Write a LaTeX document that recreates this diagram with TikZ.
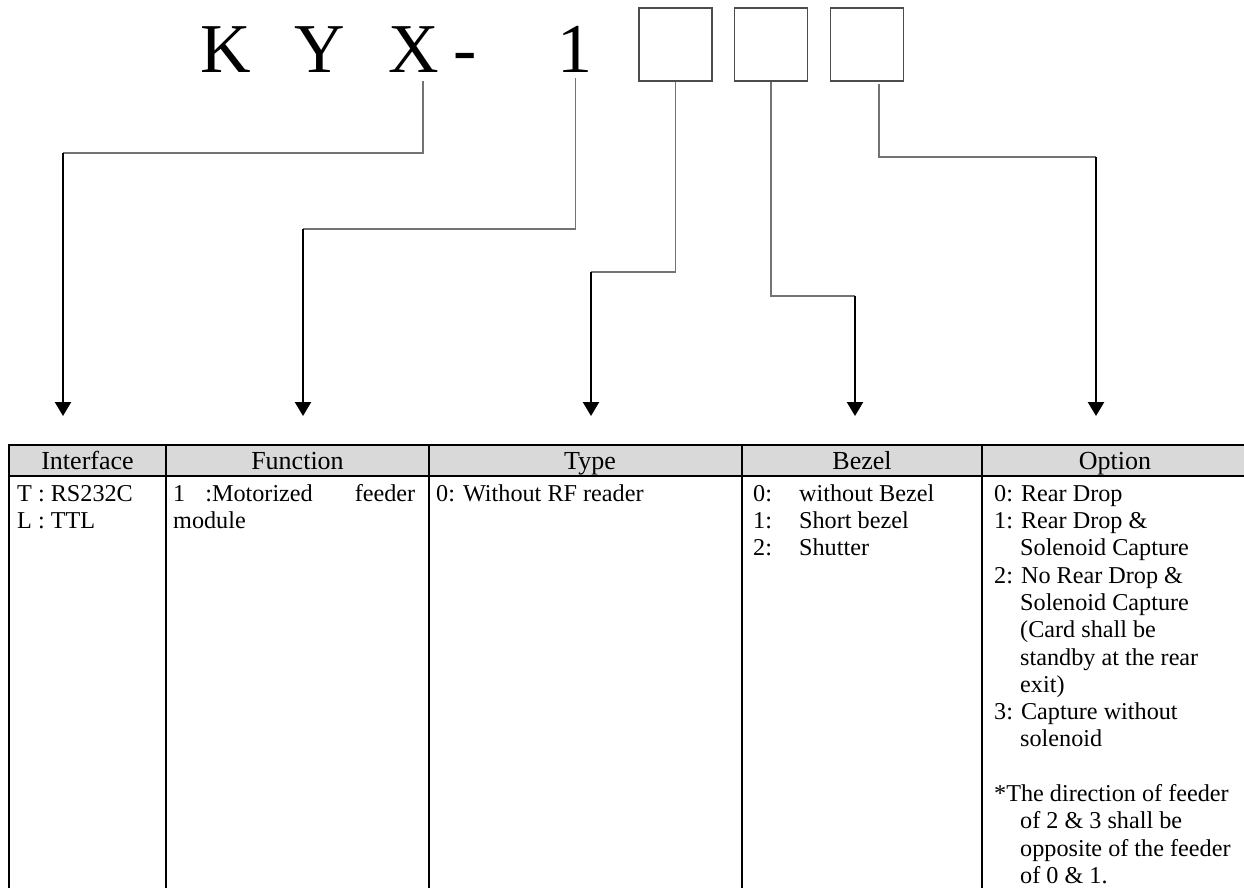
\documentclass[tikz,border=0pt]{standalone}
\usepackage{fontspec}
\setmainfont{Liberation Serif}
\usetikzlibrary{calc}
\usetikzlibrary{arrows.meta}

\newcommand{\optind}{\hspace*{26pt}}
\newcommand{\bztab}[1]{\makebox[46pt][l]{#1}}

\begin{document}
\begin{tikzpicture} [x=1pt,y=-1pt,
  codechar/.style={anchor=base west, inner sep=0pt, font=\fontsize{70}{70}\selectfont},
  codebox/.style={draw=black!70, line width=1.2pt, minimum width=73pt, minimum height=73pt, inner sep=0pt},
  lead/.style={draw=black!55, line width=1.3pt},
  arr/.style={line width=2.4pt, -{Triangle[width=16pt,length=14pt]}},
  hdr/.style={anchor=base, inner sep=0pt, font=\fontsize{26}{28}\selectfont},
  cell/.style={anchor=north west, inner sep=0pt, align=left, font=\fontsize{24.2}{27.3}\selectfont}]

\useasboundingbox (0,0) rectangle (1244,888);
\clip (0,0) rectangle (1244,888);

\node[codechar] (cK) at (200,73) {K};
\node[codechar] (cY) at (294.5,73) {Y};
\node[codechar] (cX) at (388.5,73) {X};
\node[codechar] (cDash) at (453,73) {-};
\node[codechar] (cOne) at (557,73) {1};

\foreach \b/\x in {bA/675.5, bB/771, bC/867}
\node[codebox] (\b) at (\x,44.5) {};

\coordinate (eI) at (63,153);   \coordinate (tI) at (63,416);
\coordinate (eF) at (303,229);  \coordinate (tF) at (303,416);
\coordinate (eT) at (591,272);  \coordinate (tT) at (591,416);
\coordinate (eB) at (855,296);  \coordinate (tB) at (855,416);
\coordinate (eO) at (1096,157); \coordinate (tO) at (1096,416);

\draw[lead] ([xshift=9pt,yshift=-8pt]cX.south) |- (eI);
\draw[lead] ([xshift=0.5pt,yshift=-5pt]cOne.south) |- (eF);
\draw[lead] (bA.south) |- (eT);
\draw[lead] (bB.south) |- (eB);
\draw[lead] ([xshift=12pt,yshift=-2pt]bC.south) |- (eO);

\foreach \n in {I,F,T,B,O}
\draw[arr] (e\n) -- (t\n);

\fill[black!15] (9,445) rectangle (1250,476);
\draw[line width=2pt] (1250,445) -- (9,445) -- (9,900);
\draw[line width=2pt] (9,476) -- (1250,476);
\foreach \x in {166,429,742,982}
\draw[line width=2pt] (\x,445) -- (\x,900);

\node[hdr] (hI) at (87.5,469) {Interface};
\node[hdr] (hF) at (297.5,469) {Function};
\node[hdr] (hT) at (590,469) {Type};
\node[hdr] (hB) at (862,469) {Bezel};
\node[hdr] (hO) at (1115,469) {Option};

\node[cell] (vI) at (17,481.9) {\strut T : RS232C\\L : TTL};
\node[cell] (vF) at (173,481.9) {\strut\makebox[242pt][l]{1\hspace{20pt}:Motorized\hfill feeder}\\module};
\node[cell] (vT) at (436,481.9) {\strut 0: Without RF reader};
\node[cell] (vB) at (753,481.9) {\strut\bztab{0:}without Bezel\\\bztab{1:}Short bezel\\\bztab{2:}Shutter};
\node[cell] (vO) at (994,481.9) {\strut 0: Rear Drop\\
1: Rear Drop \&\\
\optind Solenoid Capture\\
2: No Rear Drop \&\\
\optind Solenoid Capture\\
\optind (Card shall be\\
\optind standby at the rear\\
\optind exit)\\
3: Capture without\\
\optind solenoid\\
\mbox{}\\
*The direction of feeder\\
\optind of 2 \& 3 shall be\\
\optind opposite of the feeder\\
\optind of 0 \& 1.};

\end{tikzpicture}
\end{document}
